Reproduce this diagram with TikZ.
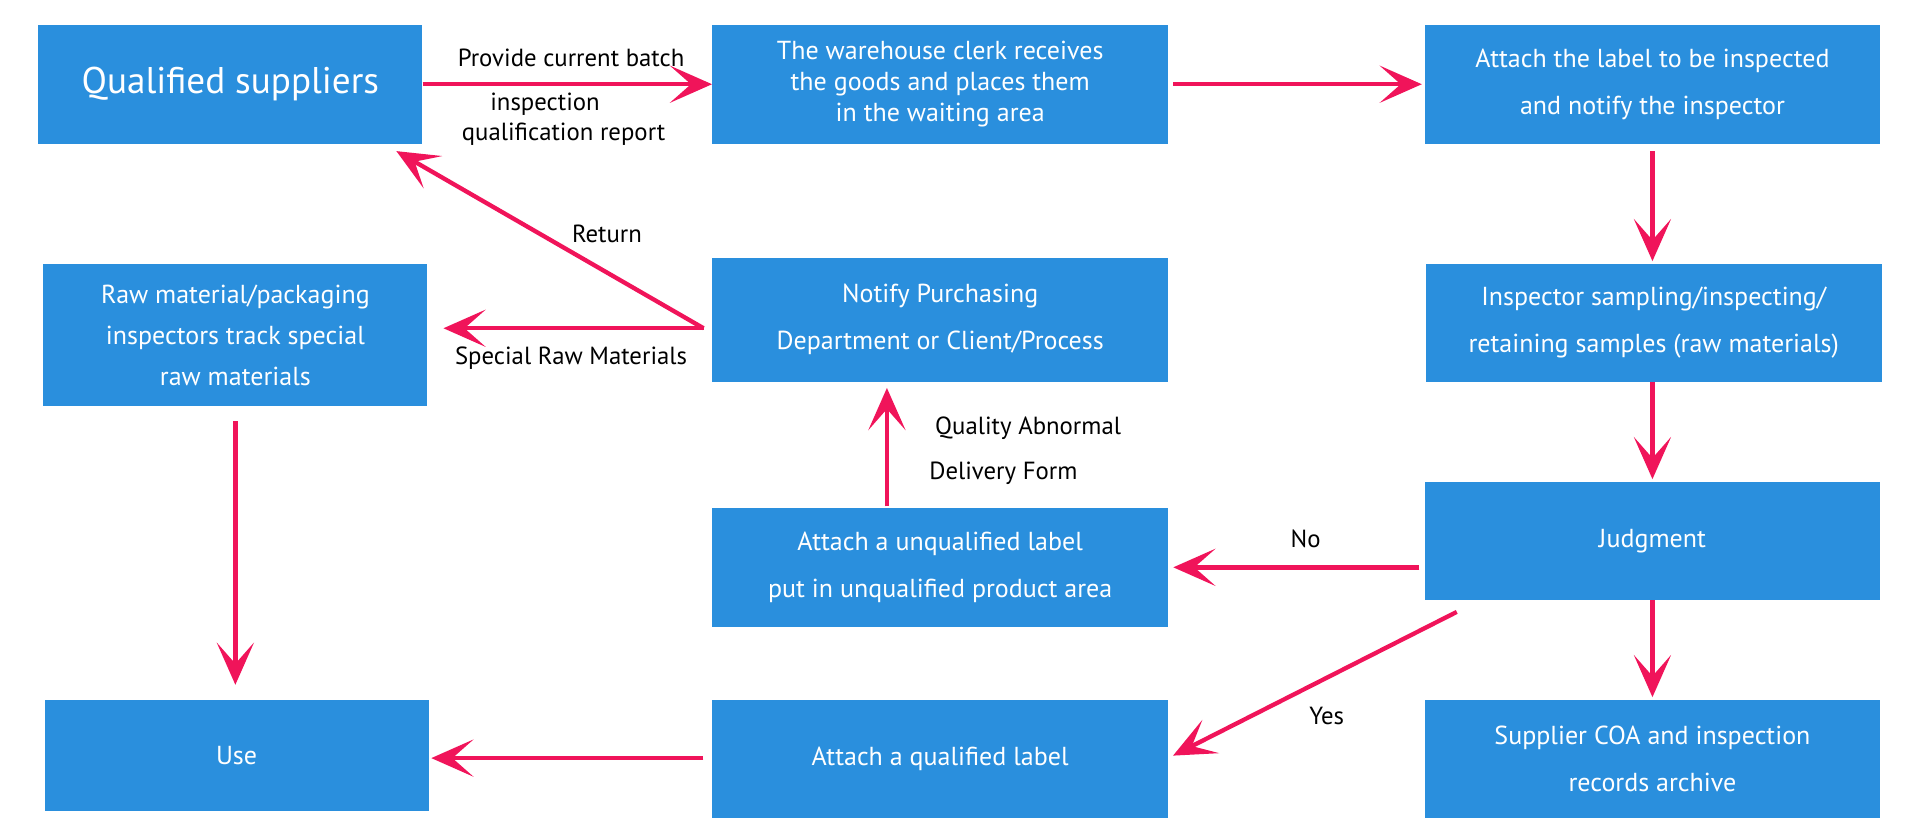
\documentclass[tikz,border=0pt]{standalone}
\usepackage{fontspec}
\setmainfont{PT Sans}
\usetikzlibrary{arrows.meta}
\definecolor{bx}{HTML}{2A8FDD}
\definecolor{ar}{HTML}{F0145A}
\begin{document}
\begin{tikzpicture}[x=1pt,y=-1pt,
  box/.style={fill=bx,text=white,inner sep=0pt,align=center,font=\fontsize{21}{38}\selectfont},
  tight/.style={font=\fontsize{21}{25}\selectfont},
  mid/.style={font=\fontsize{21}{33}\selectfont},
  big/.style={font=\fontsize{30}{34}\selectfont},
  arr/.style={draw=ar,line width=3.5pt,-{Stealth[length=34pt,width=30pt,inset=17pt]}},
  lab/.style={font=\fontsize{20}{34}\selectfont,align=center,inner sep=0pt}]
\useasboundingbox (0,0) rectangle (1550,672);
\newcommand\bxx[7][]{\node[box,#1,minimum width={#5-#3},minimum height={#6-#4}] (#2) at ({(#3+#5)/2},{(#4+#6)/2}) {#7};}
\bxx[big]{qs}{31}{20}{341}{116}{Qualified suppliers}
\bxx[tight]{wh}{575}{20}{943}{116}{The warehouse clerk receives\\the goods and places them\\in the waiting area}
\bxx{al}{1150}{20}{1518}{116}{Attach the label to be inspected\\and notify the inspector}
\bxx[mid]{rm}{35}{213}{345}{328}{Raw material/packaging\\inspectors track special\\raw materials}
\bxx{np}{575}{208}{943}{308}{Notify Purchasing\\Department or Client/Process}
\bxx{is}{1151}{213}{1519}{308}{Inspector sampling/inspecting/\\retaining samples (raw materials)}
\bxx{uq}{575}{410}{943}{506}{Attach a unqualified label\\put in unqualified product area}
\bxx{jd}{1150}{389}{1518}{484}{Judgment}
\bxx{us}{36}{565}{346}{655}{Use}
\bxx{ql}{575}{565}{943}{660}{Attach a qualified label}
\bxx{co}{1150}{565}{1518}{660}{Supplier COA and inspection\\records archive}
\coordinate (s) at (568,265);
\draw[arr] (qs.east) -- (wh.west);
\draw[arr] ([xshift=4pt]wh.east) -- ([xshift=-2pt]al.west);
\draw[arr] ([yshift=-6pt]al.south -| 1334,0) -- ([yshift=2pt]is.north -| 1334,0);
\draw[arr] (is.south -| 1334,0) -- ([yshift=2pt]jd.north -| 1334,0);
\draw[arr] (jd.south -| 1334,0) -- ([yshift=2pt]co.north -| 1334,0);
\draw[arr] ([xshift=-4pt]jd.west |- 0,458) -- ([xshift=4pt]uq.east |- 0,458);
\coordinate (y1) at (1176,494);
\coordinate (y2) at (947,610);
\draw[arr] (y1) -- (y2);
\draw[arr] ([xshift=-7pt]ql.west |- 0,612) -- ([xshift=2pt]us.east |- 0,612);
\draw[arr] ([yshift=1pt]uq.north -| 716,0) -- ([yshift=-5pt]np.south -| 716,0);
\draw[arr] (s) -- (358,265);
\draw[arr] (s) -- (320,122);
\draw[arr] ([yshift=-12pt]rm.south -| 190,0) -- ([yshift=12pt]us.north -| 190,0);
\node[lab] (l1) at (461,47) {Provide current batch};
\node[lab] (l2) at (440,84) {inspection};
\node[lab] (l3) at (455,108) {qualification report};
\node[lab] (l4) at (1054,435) {No};
\node[lab] (l5) at (1071,578) {Yes};
\node[lab] (l6) at (830,346) {Quality Abnormal};
\node[lab] (l7) at (810,382) {Delivery Form};
\node[lab] (l8) at (461,289) {Special Raw Materials};
\node[lab] (l9) at (490,189) {Return};
\end{tikzpicture}
\end{document}
